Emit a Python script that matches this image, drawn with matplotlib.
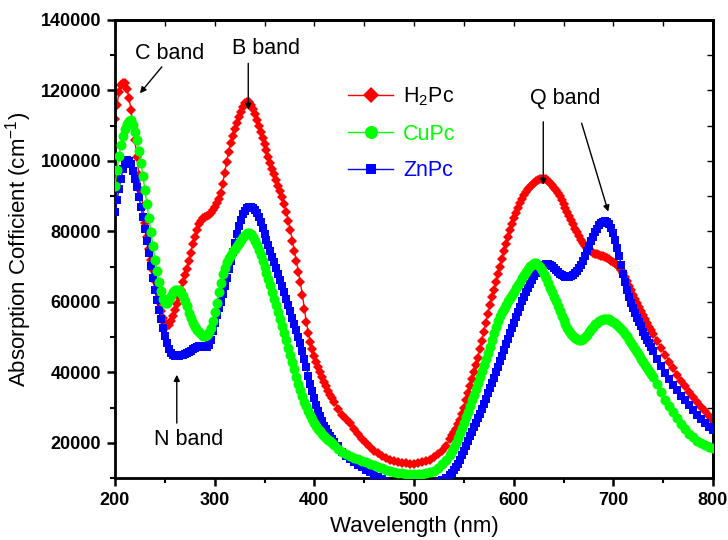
import numpy as np
import matplotlib.pyplot as plt
from matplotlib.lines import Line2D
from matplotlib.ticker import MultipleLocator, NullFormatter

plt.rcParams['font.family'] = ['Liberation Sans', 'DejaVu Sans']
plt.rcParams['mathtext.fontset'] = 'custom'
plt.rcParams['mathtext.rm'] = 'Liberation Sans'
plt.rcParams['mathtext.it'] = 'Liberation Sans:italic'
plt.rcParams['mathtext.bf'] = 'Liberation Sans:bold'

# sampling grid (nm): finer where the curves are steep
wavelength = np.concatenate([np.arange(200, 421, 2), np.arange(424, 537, 4),
                             np.arange(538, 741, 2), np.arange(744, 801, 4)])

h2pc = [
    # 200-420 step 2
    112000, 116000, 119500, 121500, 122200, 122000, 120500, 118000, 114500, 110500,
    106000, 101000, 96000, 91500, 87000, 82500, 78500, 75000, 72000, 69000,
    66000, 63000, 60000, 57500, 55500, 54000, 53200, 53300, 54500, 56000,
    57700, 59500, 61500, 63500, 65500, 67500, 69300, 71500, 74000, 76500,
    78500, 80500, 82000, 83000, 83700, 84000, 84300, 84700, 85300, 86000,
    87000, 88000, 89300, 91000, 93500, 96500, 99800, 102500, 105000, 107200,
    109200, 110800, 112500, 114000, 115300, 116300, 116800, 116700, 116000, 114800,
    113300, 111700, 110000, 108300, 106600, 104800, 103000, 101200, 99500, 97800,
    96200, 94600, 93000, 91400, 89700, 87800, 85500, 83000, 80300, 77300,
    74300, 71500, 68500, 65500, 62000, 58000, 54200, 51200, 48700, 46500,
    44700, 43000, 41500, 40000, 38600, 37300, 36000, 34800, 33700, 32600,
    31600,
    # 424-536 step 4
    29700, 28000, 26700, 25500, 24000, 22600, 21200, 19900, 18800, 17800,
    17000, 16300, 15700, 15200, 14800, 14500, 14300, 14200, 14100, 14100,
    14200, 14400, 14700, 15200, 15900, 16800, 17800, 19200, 21000,
    # 538-740 step 2
    22200, 23000, 24000, 25200, 26600, 28200, 30000, 32000, 34000, 36000,
    38000, 40000, 42000, 44200, 46500, 49000, 51500, 54000, 56500, 59000,
    61300, 63500, 65600, 67800, 70000, 72200, 74300, 76400, 78400, 80300,
    82100, 83800, 85300, 86700, 88000, 89200, 90300, 91200, 92000, 92700,
    93300, 93800, 94300, 94600, 94900, 95000, 95000, 94800, 94300, 93700,
    93100, 92400, 91700, 90900, 90000, 89000, 87900, 86700, 85500, 84300,
    83100, 82000, 80800, 79700, 78600, 77600, 76700, 75900, 75300, 74800,
    74400, 74000, 73700, 73500, 73300, 73100, 72900, 72700, 72400, 72100,
    71700, 71300, 70900, 70400, 69800, 69000, 68100, 67000, 65800, 64600,
    63300, 62000, 60800, 59600, 58500, 57400, 56300, 55200, 54100, 53000,
    51900, 50900,
    # 744-800 step 4
    48900, 47000, 45000, 43000, 41100, 39300, 37600, 36000, 34500, 33000,
    31600, 30200, 28900, 27600, 26300,
]

cupc = [
    93000, 97500, 101500, 104500, 107000, 109000, 110500, 111400, 111500, 110300,
    108300, 105800, 102800, 99300, 95700, 91800, 87800, 83800, 79800, 75800,
    72000, 68700, 65700, 63000, 60800, 59700, 59800, 60700, 61800, 62700,
    63300, 63500, 63300, 62600, 61600, 60300, 58700, 56900, 55300, 53900,
    52800, 52000, 51300, 50800, 50400, 50200, 50500, 51300, 52600, 54500,
    57000, 59800, 62700, 65400, 67800, 69700, 71200, 72400, 73400, 74300,
    75100, 75900, 76700, 77500, 78300, 79000, 79400, 79500, 79200, 78400,
    77400, 76200, 74800, 73300, 71700, 70000, 68300, 66500, 64700, 62800,
    60900, 59000, 57100, 55200, 53200, 51200, 49100, 47000, 44900, 42800,
    40800, 38700, 36800, 35000, 33300, 31700, 30300, 29000, 27800, 26700,
    25700, 24800, 24000, 23300, 22600, 22000, 21400, 20900, 20400, 19900,
    19500,
    18300, 17500, 16900, 16300, 15800, 15300, 14800, 14400, 14000, 13600,
    13200, 12800, 12400, 12100, 11800, 11500, 11300, 11100, 11000, 11000,
    11000, 11100, 11300, 11600, 12100, 12900, 13900, 15100, 16600,
    17600, 18800, 20000, 21300, 22700, 24200, 25700, 27200, 28700, 30300,
    32000, 33700, 35400, 37100, 38800, 40500, 42200, 43900, 45600, 47300,
    49200, 51200, 53000, 54600, 55900, 57000, 58000, 59100, 60100, 61000,
    61900, 62900, 63800, 64800, 65700, 66700, 67700, 68600, 69400, 70100,
    70600, 70900, 70900, 70500, 69900, 69000, 67900, 66700, 65300, 64000,
    62700, 61400, 60100, 58700, 57400, 56100, 54900, 53800, 52700, 51800,
    51000, 50300, 49800, 49400, 49200, 49200, 49400, 49900, 50600, 51400,
    52200, 53000, 53600, 54100, 54500, 54800, 55000, 55100, 55100, 55000,
    54700, 54300, 53900, 53400, 52900, 52300, 51700, 51000, 50200, 49300,
    48400, 47500, 46600, 45700, 44800, 43900, 43000, 42200, 41300, 40500,
    39600, 38700,
    36600, 34300, 32200, 30400, 28600, 26900, 25300, 23900, 22600, 21500,
    20600, 19900, 19300, 18800, 18400,
]

znpc = [
    85600, 88800, 92000, 95000, 97600, 99400, 100200, 100000, 99000, 97200,
    95000, 92500, 89800, 87000, 84000, 80700, 77300, 73800, 70300, 66800,
    63500, 60500, 57700, 55000, 52500, 50300, 48300, 46600, 45400, 44800,
    44500, 44500, 44600, 44800, 45000, 45200, 45400, 45700, 46100, 46500,
    46900, 47200, 47400, 47500, 47400, 47300, 47300, 47800, 49300, 51600,
    54000, 56200, 58200, 60000, 62200, 64500, 66800, 69200, 71600, 74200,
    76800, 79300, 81500, 83300, 84800, 85900, 86600, 87000, 87000, 86600,
    86000, 85100, 84000, 82600, 81000, 79300, 77600, 76000, 74400, 72800,
    71200, 69600, 67900, 66200, 64500, 62700, 60900, 59100, 57300, 55500,
    53700, 51900, 50100, 48300, 46100, 43800, 41400, 39000, 36700, 34600,
    32600, 30700, 29000, 27500, 26100, 24900, 23800, 22800, 21900, 21100,
    20300,
    19000, 17500, 16300, 15300, 14500, 13700, 13000, 12300, 11600, 10900,
    10200, 9600, 9000, 8500, 8100, 7800, 7600, 7400, 7300, 7300,
    7300, 7400, 7600, 7900, 8300, 8800, 9400, 10000, 10800,
    11500, 12300, 13200, 14100, 15100, 16400, 17700, 19000, 20400, 21800,
    23100, 24400, 25700, 27000, 28300, 29600, 31000, 32500, 34000, 35500,
    37000, 38500, 40000, 41500, 43100, 44700, 46300, 47900, 49500, 51100,
    52600, 54100, 55600, 57100, 58600, 60100, 61500, 62800, 64000, 65100,
    66200, 67200, 68100, 68900, 69600, 70200, 70600, 70800, 70800, 70600,
    70200, 69700, 69100, 68500, 68000, 67600, 67300, 67100, 67000, 67000,
    67200, 67600, 68100, 68700, 69500, 70500, 71700, 73000, 74400, 75800,
    77200, 78500, 79700, 80800, 81700, 82400, 82800, 82900, 82700, 82000,
    80900, 79400, 77500, 75300, 72900, 70400, 67900, 65500, 63300, 61400,
    59700, 58200, 56800, 55500, 54300, 53100, 51500, 50400, 49300, 48200,
    47100, 46000,
    43800, 41700, 39800, 38100, 36400, 34900, 33400, 32000, 30600, 29300,
    28000, 26800, 25700, 24600, 23600,
]

fig = plt.figure(figsize=(7.28, 5.4), dpi=100)
ax = fig.add_axes([115 / 728, 62 / 540, 598 / 728, 458 / 540])

ax.plot(wavelength, h2pc, color='#ff0000', marker='D', ms=5.6, mew=0, lw=1, zorder=2)
ax.plot(wavelength, znpc, color='#0000ff', marker='s', ms=6.2, mew=0, lw=1, zorder=3)
ax.plot(wavelength, cupc, color='#00ff00', marker='o', ms=7.2, mew=0, lw=1, zorder=4)

ax.set_xlim(200, 800)
ax.set_ylim(10000, 140000)
ax.xaxis.set_major_locator(MultipleLocator(100))
ax.xaxis.set_minor_locator(MultipleLocator(50))
ax.yaxis.set_major_locator(MultipleLocator(20000))
ax.yaxis.set_minor_locator(MultipleLocator(10000))
ax.tick_params(which='major', direction='out', length=6, width=1.8, labelsize=13, pad=4)
ax.tick_params(which='minor', direction='out', length=3.5, width=1.5)
plt.setp(ax.get_xticklabels() + ax.get_yticklabels(), fontweight='bold')
for s in ax.spines.values():
    s.set_linewidth(2)

# thin inward ticks on top and right
secx = ax.secondary_xaxis('top')
secx.xaxis.set_major_locator(MultipleLocator(50))
secx.xaxis.set_major_formatter(NullFormatter())
secx.tick_params(direction='in', length=4, width=1)
secx.spines['top'].set_linewidth(2)
secy = ax.secondary_yaxis('right')
secy.yaxis.set_major_locator(MultipleLocator(10000))
secy.yaxis.set_major_formatter(NullFormatter())
secy.tick_params(direction='in', length=4, width=1)
secy.spines['right'].set_linewidth(2)

ax.set_xlabel('Wavelength (nm)', fontsize=16)
ax.set_ylabel('Absorption Cofficient (cm$^{-1}$)', fontsize=16)
ax.xaxis.set_label_coords(0.5, -0.083)
ax.yaxis.set_label_coords(-0.136, 0.5)

# band annotations
arrow = dict(arrowstyle='-|>', color='black', lw=1, mutation_scale=9, shrinkA=0, shrinkB=0)
ax.text(255, 130600, 'C band', fontsize=15.5, ha='center', va='center')
ax.annotate('', xy=(225, 119200), xytext=(247, 126700), arrowprops=arrow)
ax.text(352, 132000, 'B band', fontsize=15.5, ha='center', va='center')
ax.annotate('', xy=(333.7, 114500), xytext=(333.7, 127700), arrowprops=arrow)
ax.text(651.5, 117800, 'Q band', fontsize=15.5, ha='center', va='center')
ax.annotate('', xy=(629.7, 93200), xytext=(629.7, 111100), arrowprops=arrow)
ax.annotate('', xy=(694.9, 85600), xytext=(668.2, 110700), arrowprops=arrow)
ax.text(273.5, 21000, 'N band', fontsize=15.5, ha='center', va='center')
ax.annotate('', xy=(262, 39300), xytext=(262, 25600), arrowprops=arrow)

handles = [
    Line2D([], [], color='#ff0000', marker='D', ms=8.5, mew=0, lw=1),
    Line2D([], [], color='#00ff00', marker='o', ms=9.4, mew=0, lw=1),
    Line2D([], [], color='#0000ff', marker='s', ms=7.2, mew=0, lw=1),
]
leg = ax.legend(handles, ['H$_2$Pc', 'CuPc', 'ZnPc'], loc='upper left',
                bbox_to_anchor=(0.3896, 0.858), frameon=False, fontsize=15.5,
                borderpad=0, borderaxespad=0, handlelength=2.1, handletextpad=0.46,
                labelspacing=0.74)
for t, c in zip(leg.get_texts(), ['black', '#00ff00', '#0000ff']):
    t.set_color(c)

fig.savefig('out.png', dpi=100)
